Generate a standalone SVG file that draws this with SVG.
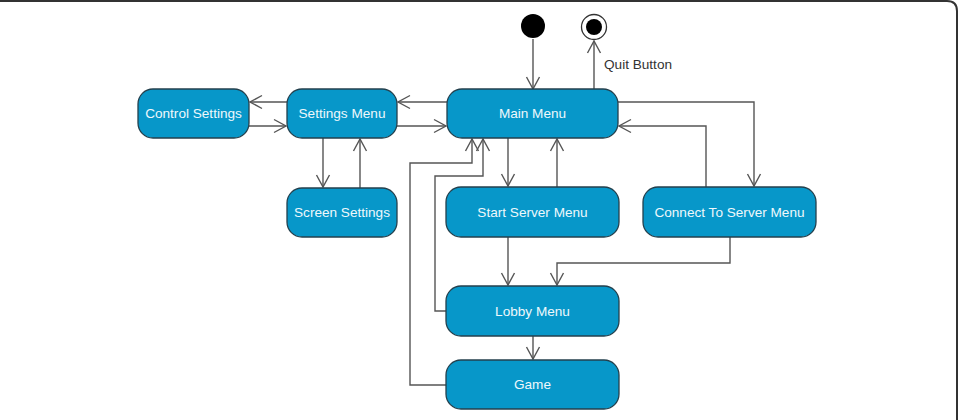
<svg xmlns="http://www.w3.org/2000/svg" width="959" height="420" viewBox="0 0 959 420">
<style>
.node rect{fill:#0797c9;stroke:#24404d;stroke-width:1.3}
.node text{fill:#eef8fc;font-family:"Liberation Sans",Arial,sans-serif;font-size:13.6px;text-anchor:middle;dominant-baseline:central}
.conn path{fill:none;stroke:#555;stroke-width:1.4;marker-end:url(#arr)}
.lbl{fill:#333;font-family:"Liberation Sans",Arial,sans-serif;font-size:13.6px}
</style>
<defs>
<marker id="arr" markerUnits="userSpaceOnUse" markerWidth="16" markerHeight="16" viewBox="0 0 16 16" refX="13" refY="8" orient="auto">
<path d="M1,1.5 L13,8 L1,14.5" fill="none" stroke="#555" stroke-width="1.4"/>
</marker>
</defs>
<rect width="959" height="420" fill="#fff"/>
<path d="M0,1 H947 Q957,1 957,11 V420" fill="none" stroke="#333" stroke-width="2"/>
<g class="conn">
<path d="M533,39 V89"/>
<path d="M594,89 V41"/>
<path d="M447,102 H398"/>
<path d="M397,126 H446"/>
<path d="M287,102 H250"/>
<path d="M249,126 H286"/>
<path d="M323,138 V187"/>
<path d="M360,188 V139"/>
<path d="M508,138 V186"/>
<path d="M557,187 V139"/>
<path d="M618,102 H754 V186"/>
<path d="M706,187 V126 H619"/>
<path d="M508,237 V285"/>
<path d="M730,237 V263 H557 V285"/>
<path d="M446,311 H435 V176 H483 V139"/>
<path d="M446,385 H410 V163 H472 V139"/>
<path d="M533,336 V359"/>
</g>
<g id="initial"><circle cx="533" cy="26" r="12" fill="#000"/></g>
<g id="final"><circle cx="594" cy="27" r="12.5" fill="#fff" stroke="#333" stroke-width="1.3"/><circle cx="594" cy="27" r="8" fill="#000"/></g>
<text class="lbl" x="604" y="69">Quit Button</text>
<g id="control-settings" class="node"><rect x="138" y="89" width="111" height="49" rx="15"/><text x="193.5" y="113.5">Control Settings</text></g>
<g id="settings-menu" class="node"><rect x="287" y="89" width="110" height="49" rx="15"/><text x="342" y="113.5">Settings Menu</text></g>
<g id="screen-settings" class="node"><rect x="287" y="188" width="110" height="49" rx="15"/><text x="342" y="212.5">Screen Settings</text></g>
<g id="main-menu" class="node"><rect x="447" y="89" width="171" height="49" rx="15"/><text x="532.5" y="113.5">Main Menu</text></g>
<g id="start-server-menu" class="node"><rect x="446" y="187" width="173" height="50" rx="15"/><text x="532.5" y="212">Start Server Menu</text></g>
<g id="connect-to-server-menu" class="node"><rect x="643" y="187" width="173" height="50" rx="15"/><text x="729.5" y="212">Connect To Server Menu</text></g>
<g id="lobby-menu" class="node"><rect x="446" y="286" width="173" height="50" rx="15"/><text x="532.5" y="311">Lobby Menu</text></g>
<g id="game" class="node"><rect x="446" y="360" width="173" height="49" rx="15"/><text x="532.5" y="384.5">Game</text></g>
</svg>
